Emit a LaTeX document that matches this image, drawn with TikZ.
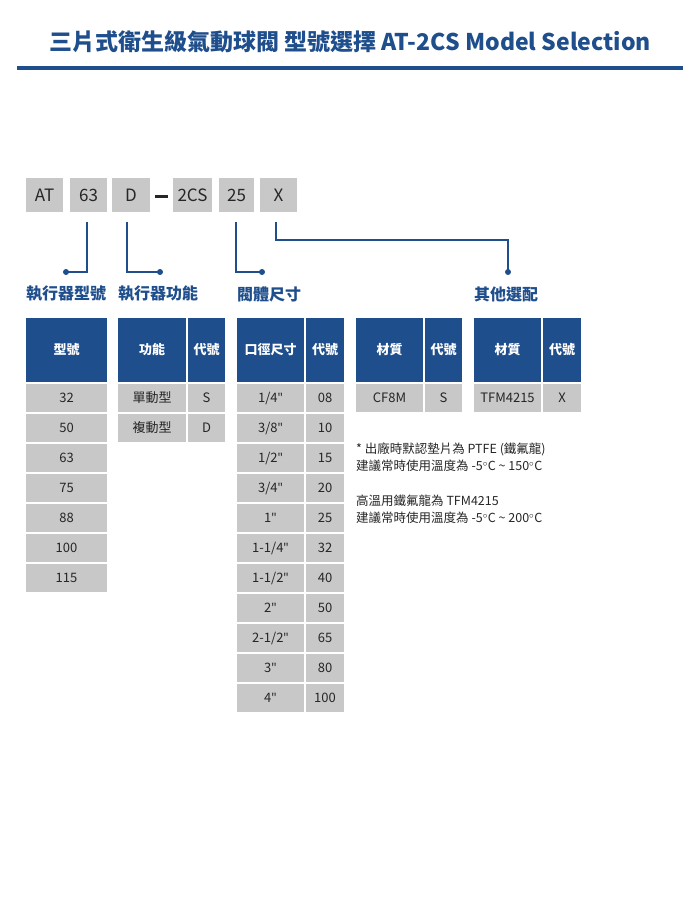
\documentclass[tikz,border=0pt]{standalone}
\usepackage{fontspec}
\setmainfont{Noto Sans CJK TC}
\newfontfamily\latf{Noto Sans}
\newcommand{\inch}{{\latf\symbol{34}}}
\definecolor{navy}{HTML}{1F4E8C}
\definecolor{cell}{HTML}{C8C8C8}
\begin{document}
\begin{tikzpicture}[x=1pt,y=-1pt,
 cbox/.style={fill=cell,minimum height=34pt,inner sep=0pt,font=\fontsize{17}{17}\selectfont,text=black!85},
 hd/.style={fill=navy,text=white,minimum height=64pt,inner sep=0pt,font=\fontsize{13}{13}\selectfont\bfseries},
 cl/.style={fill=cell,text=black!85,minimum height=28pt,inner sep=0pt,font=\fontsize{13}{13}\selectfont},
 lab/.style={text=navy,anchor=west,inner sep=0pt,font=\fontsize{16}{16}\selectfont\bfseries},
 ln/.style={navy,line width=2pt},
 dot/.style={circle,fill=navy,inner sep=0pt,minimum size=6pt},
 note/.style={anchor=west,inner sep=0pt,font=\fontsize{12.5}{12.5}\selectfont,text=black!85}]
\useasboundingbox[fill=white] (0,0) rectangle (700,899);
\node[text=navy,font=\fontsize{23}{23}\selectfont\bfseries] (title) at (350,42) {三片式衛生級氣動球閥 型號選擇 AT-2CS Model Selection};
\draw[navy,line width=3pt] (17,68) -- (683,68);
% code boxes
\node[cbox,minimum width=37pt] (c1) at (44.5,195) {AT};
\node[cbox,minimum width=37pt] (c2) at (88.5,195) {63};
\node[cbox,minimum width=38pt] (c3) at (131,195) {D};
\node[fill=black!85,minimum width=13pt,minimum height=3pt,inner sep=0pt] (dash) at (161,196) {};
\node[cbox,minimum width=39pt] (c4) at (192.5,195) {2CS};
\node[cbox,minimum width=35pt] (c5) at (236.5,195) {25};
\node[cbox,minimum width=37pt] (c6) at (278.5,195) {X};
\node[dot] (d1) at (66,272) {};
\node[dot] (d2) at (160,272) {};
\node[dot] (d3) at (262,272) {};
\node[dot] (d4) at (508,272) {};
\draw[ln] (87,222) -- (87,272) -- (d1.center);
\draw[ln] (127,222) -- (127,272) -- (d2.center);
\draw[ln] (236,222) -- (236,272) -- (d3.center);
\draw[ln] (276,222) -- (276,240) -- (508,240) -- (d4.center);
\node[lab] (l1) at (26,294) {執行器型號};
\node[lab] (l2) at (118,294) {執行器功能};
\node[lab] (l3) at (237,294) {閥體尺寸};
\node[lab] (l4) at (474,294) {其他選配};
% table 1
\node[hd,minimum width=81pt] (h1) at (66.5,350) {型號};
\foreach \v [count=\i from 0] in {32,50,63,75,88,100,115}
  \node[cl,minimum width=81pt] (t1r\i) at (66.5,398+30*\i) {\v};
% table 2
\node[hd,minimum width=68pt] (h2a) at (152,350) {功能};
\node[hd,minimum width=37pt] (h2b) at (206.5,350) {代號};
\foreach \a/\b [count=\i from 0] in {單動型/S,複動型/D}{
  \node[cl,minimum width=68pt] (t2a\i) at (152,398+30*\i) {\a};
  \node[cl,minimum width=37pt] (t2b\i) at (206.5,398+30*\i) {\b};}
% table 3
\node[hd,minimum width=67pt] (h3a) at (270.5,350) {口徑尺寸};
\node[hd,minimum width=38pt] (h3b) at (325,350) {代號};
\foreach \a/\b [count=\i from 0] in {{1/4\inch}/08,{3/8\inch}/10,{1/2\inch}/15,{3/4\inch}/20,{1\inch}/25,{1-1/4\inch}/32,{1-1/2\inch}/40,{2\inch}/50,{2-1/2\inch}/65,{3\inch}/80,{4\inch}/100}{
  \node[cl,minimum width=67pt] (t3a\i) at (270.5,398+30*\i) {\a};
  \node[cl,minimum width=38pt] (t3b\i) at (325,398+30*\i) {\b};}
% table 4
\node[hd,minimum width=67pt] (h4a) at (389.5,350) {材質};
\node[hd,minimum width=37pt] (h4b) at (443.5,350) {代號};
\node[cl,minimum width=67pt] (t4a) at (389.5,398) {CF8M};
\node[cl,minimum width=37pt] (t4b) at (443.5,398) {S};
% table 5
\node[hd,minimum width=67pt] (h5a) at (507.5,350) {材質};
\node[hd,minimum width=38pt] (h5b) at (562,350) {代號};
\node[cl,minimum width=67pt] (t5a) at (507.5,398) {TFM4215};
\node[cl,minimum width=38pt] (t5b) at (562,398) {X};
% notes
\node[note] (n1) at (356,449) {* 出廠時默認墊片為 PTFE (鐵氟龍)};
\node[note] (n2) at (356,466) {建議常時使用溫度為 -5$^\circ$C \textasciitilde{} 150$^\circ$C};
\node[note] (n3) at (356,501) {高溫用鐵氟龍為 TFM4215};
\node[note] (n4) at (356,518) {建議常時使用溫度為 -5$^\circ$C \textasciitilde{} 200$^\circ$C};
\end{tikzpicture}
\end{document}
